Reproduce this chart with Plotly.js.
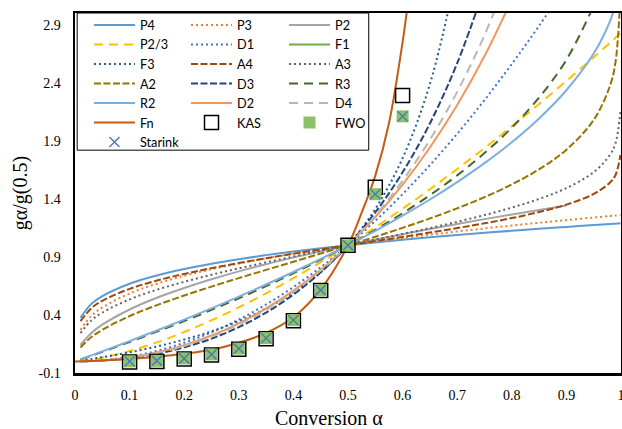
<!DOCTYPE html>
<html>
<head>
<meta charset="utf-8">
<script src="https://cdn.plot.ly/plotly-3.0.1.min.js"></script>
<style>html,body{margin:0;padding:0;background:#fff;}#chart{width:622px;height:429px;}</style>
</head>
<body>
<div id="chart"></div>
<script>
// conversion grid for the model curves
const alpha = [0.01,0.03,0.05,0.1,0.15,0.2,0.25,0.3,0.35,0.4,0.45,0.5,0.55,0.6,0.65,0.7,0.75,0.8,0.85,0.9,0.95,0.98,0.99,0.999];
const P4  = [0.376,0.495,0.562,0.669,0.740,0.795,0.841,0.880,0.915,0.946,0.974,1,1.024,1.047,1.068,1.088,1.107,1.125,1.142,1.158,1.174,1.183,1.186,1.189];
const P3  = [0.271,0.392,0.464,0.585,0.669,0.737,0.794,0.843,0.888,0.928,0.966,1,1.032,1.063,1.091,1.119,1.145,1.170,1.194,1.216,1.239,1.252,1.256,1.260];
const P2  = [0.141,0.245,0.316,0.447,0.548,0.632,0.707,0.775,0.837,0.894,0.949,1,1.049,1.095,1.140,1.183,1.225,1.265,1.304,1.342,null,null,null,null];
const P23 = [0.003,0.015,0.032,0.089,0.164,0.253,0.354,0.465,0.586,0.716,0.854,1,1.154,1.315,1.482,1.657,1.837,2.024,2.217,2.415,2.619,2.744,2.786,2.824];
const D1  = [0.0004,0.0036,0.01,0.04,0.09,0.16,0.25,0.36,0.49,0.64,0.81,1,1.21,1.44,1.69,1.96,2.25,2.56,2.89,3.24,null,null,null,null];
const F1  = [null,null,null,null,null,null,null,null,null,null,null,null,null,null,null,null,null,null,null,null,null,null,null,null];
const F3  = [0.007,0.021,0.036,0.078,0.128,0.188,0.259,0.347,0.456,0.593,0.769,1,1.313,1.75,2.388,3.370,null,null,null,null,null,null,null,null];
const A4  = [0.347,0.458,0.522,0.624,0.696,0.753,0.803,0.847,0.888,0.927,0.964,1,1.036,1.072,1.109,1.148,1.189,1.234,1.286,1.350,1.442,1.541,1.605,1.777];
const A3  = [0.244,0.353,0.420,0.534,0.617,0.685,0.746,0.801,0.853,0.903,0.952,1,1.048,1.097,1.148,1.202,1.260,1.324,1.399,1.492,1.629,1.780,1.880,2.152];
const A2  = [0.120,0.210,0.272,0.390,0.484,0.567,0.644,0.717,0.788,0.858,0.929,1,1.073,1.150,1.231,1.318,1.414,1.524,1.654,1.823,2.079,2.376,2.578,3.157];
const D3  = [0.0003,0.0024,0.0068,0.028,0.065,0.121,0.196,0.295,0.420,0.576,0.767,1,1.283,1.628,2.049,2.568,3.217,null,null,null,null,null,null,null];
const R3  = [0.016,0.049,0.082,0.167,0.256,0.347,0.443,0.543,0.648,0.759,0.876,1,1.133,1.276,1.431,1.602,1.794,2.013,2.272,2.597,3.062,null,null,null];
const R2  = [0.017,0.052,0.086,0.175,0.266,0.360,0.457,0.558,0.662,0.770,0.882,1,1.124,1.255,1.394,1.544,1.707,1.887,2.092,2.335,2.651,2.931,3.073,null];
const D2  = [0.0003,0.003,0.008,0.034,0.077,0.140,0.223,0.328,0.456,0.609,0.790,1,1.243,1.522,1.842,2.208,2.629,3.116,null,null,null,null,null,null];
const D4  = [0.0003,0.003,0.008,0.032,0.073,0.133,0.214,0.317,0.444,0.598,0.782,1,1.256,1.556,1.908,2.321,2.810,3.397,null,null,null,null,null,null];
// fitted curve
const fnAlpha = [0,0.05,0.1,0.15,0.2,0.25,0.3,0.35,0.4,0.45,0.5,0.525,0.55,0.575,0.6,0.61];
const Fn      = [0.0,0.008,0.02,0.04,0.066,0.10,0.16,0.245,0.38,0.62,1.0,1.28,1.6,2.05,2.75,3.1];
// experimental points
const ptAlpha = [0.1,0.15,0.2,0.25,0.3,0.35,0.4,0.45,0.5,0.55,0.6];
const KAS     = [-0.005,0.0,0.02,0.055,0.105,0.195,0.35,0.61,1.0,1.5,2.29];
const FWO     = [0.0,0.005,0.025,0.06,0.11,0.2,0.355,0.615,1.0,1.44,2.11];
const Starink = [0.0,0.005,0.025,0.06,0.11,0.2,0.355,0.615,1.0,1.44,2.11];
// axis ticks
const yTickVals = [-0.1,0.4,0.9,1.4,1.9,2.4,2.9];
const yTickText = ['-0.1','0.4','0.9','1.4','1.9','2.4','2.9'];
const xTickVals = [0,0.1,0.2,0.3,0.4,0.5,0.6,0.7,0.8,0.9,1];
const xTickText = ['0','0.1','0.2','0.3','0.4','0.5','0.6','0.7','0.8','0.9','1'];

function line(name, y, color, dash, leg, x) {
  return {type:'scatter', mode:'lines', name:name, x:x||alpha, y:y,
    line:{color:color, width:2, dash:dash, shape:'spline', smoothing:1},
    legend:leg, connectgaps:false, hoverinfo:'skip'};
}
const DOT = '2px,3px', DASH = '7px,2.5px', LDASH = '9px,6px';
const traces = [
  line('P4', P4, '#5B9BD5', 'solid', 'legend'),
  line('P3', P3, '#ED7D31', DOT, 'legend2'),
  line('P2', P2, '#A5A5A5', 'solid', 'legend3'),
  line('P2/3', P23, '#FFC000', LDASH, 'legend'),
  line('D1', D1, '#4472C4', DOT, 'legend2'),
  line('F1', F1, '#70AD47', 'solid', 'legend3'),
  line('F3', F3, '#255E91', DOT, 'legend'),
  line('A4', A4, '#9E480E', DASH, 'legend2'),
  line('A3', A3, '#636363', DOT, 'legend3'),
  line('A2', A2, '#997300', DASH, 'legend'),
  line('D3', D3, '#264478', DASH, 'legend2'),
  line('R3', R3, '#43682B', LDASH, 'legend3'),
  line('R2', R2, '#7CAFDD', 'solid', 'legend'),
  line('D2', D2, '#F1975A', 'solid', 'legend2'),
  line('D4', D4, '#B7B7B7', LDASH, 'legend3'),
  line('Fn', Fn, '#C55A11', 'solid', 'legend', fnAlpha),
  {type:'scatter', mode:'markers', name:'KAS', x:ptAlpha, y:KAS, legend:'legend2',
    marker:{symbol:'square-open', size:14, color:'#000000', line:{width:1.5, color:'#000000'}}},
  {type:'scatter', mode:'markers', name:'FWO', x:ptAlpha, y:FWO, legend:'legend3',
    marker:{symbol:'square', size:12, color:'#8CC168'}},
  {type:'scatter', mode:'markers', name:'Starink', x:ptAlpha, y:Starink, legend:'legend',
    marker:{symbol:'x-thin', size:10, color:'#4472C4', line:{width:1.3, color:'#4472C4'}}}
];

const serif = 'Liberation Serif, Times New Roman, serif';
const legFont = {family:'Lato, Carlito, Calibri, sans-serif', size:12.7, color:'#000'};
function leg(x) {
  return {x:x, y:1.0076, xanchor:'left', yanchor:'top', orientation:'v', itemwidth:41,
    bgcolor:'rgba(0,0,0,0)', borderwidth:0, font:legFont, tracegroupgap:0, itemclick:false};
}
const layout = {
  width:622, height:429,
  margin:{l:75, r:1, t:13, b:56, autoexpand:false},
  paper_bgcolor:'#fff', plot_bgcolor:'#fff',
  showlegend:true,
  xaxis:{range:[0,1], tickvals:xTickVals, ticktext:xTickText, showgrid:false, zeroline:false,
    showline:true, linecolor:'#000', linewidth:2.5, mirror:true, ticks:'', ticklabelstandoff:8,
    ticklabeloverflow:'allow', tickfont:{family:serif, size:14, color:'#000'}},
  yaxis:{range:[-0.1,3.0], tickvals:yTickVals, ticktext:yTickText, showgrid:false, zeroline:false,
    showline:true, linecolor:'#000', linewidth:2.5, mirror:true, ticks:'', ticklabelstandoff:9,
    tickfont:{family:serif, size:14, color:'#000'},
    title:{text:'gα/g(0.5)', font:{family:serif, size:20, color:'#000'}, standoff:6}},
  legend: leg(0.0256), legend2: leg(0.2033), legend3: leg(0.3828),
  shapes:[{type:'rect', xref:'paper', yref:'paper', x0:0.004, x1:0.538, y0:0.619, y1:1,
    fillcolor:'#fff', line:{color:'#000', width:1}, layer:'above'}],
  annotations:[{text:'Conversion α', xref:'paper', yref:'paper', x:0.465, y:-0.125,
    xanchor:'center', yanchor:'middle', showarrow:false, font:{family:serif, size:20, color:'#000'}}]
};
Plotly.newPlot('chart', traces, layout, {displayModeBar:false, staticPlot:true});
</script>
</body>
</html>
